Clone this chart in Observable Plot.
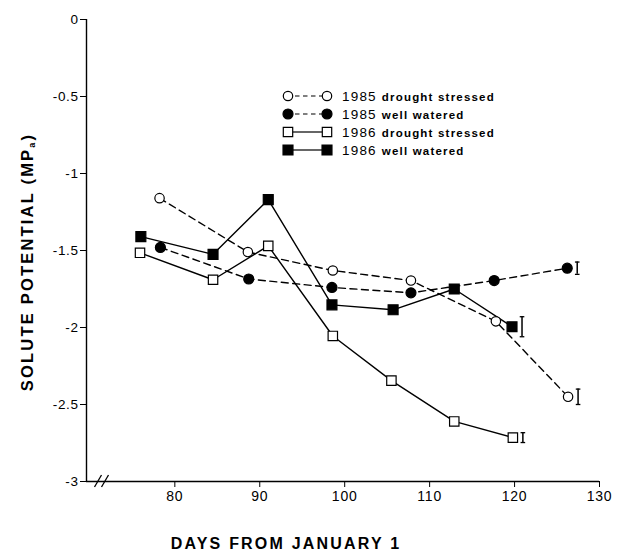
<!DOCTYPE html>
<html><head><meta charset="utf-8">
<script src="https://cdn.jsdelivr.net/npm/d3@7"></script>
<script src="https://cdn.jsdelivr.net/npm/@observablehq/plot@0.6"></script>
<style>
body{margin:0;background:#fff;}
#chart svg{display:block;}
g[aria-label="x-axis tick label"] text{letter-spacing:0.8px;}
g[aria-label="y-axis tick label"] text{letter-spacing:0.6px;}
</style></head><body><div id="chart"></div>
<script>
// ---- data ----
const days85DS = [78.2, 88.6, 98.6, 107.8, 117.8, 126.3];
const vals85DS = [-1.16, -1.51, -1.63, -1.695, -1.96, -2.45];
const days85WW = [78.3, 88.7, 98.5, 107.8, 117.6, 126.2];
const vals85WW = [-1.48, -1.685, -1.74, -1.775, -1.695, -1.615];
const days86DS = [75.9, 84.5, 91.0, 98.6, 105.5, 112.9, 119.8];
const vals86DS = [-1.515, -1.69, -1.47, -2.055, -2.345, -2.61, -2.715];
const days86WW = [76.0, 84.5, 91.0, 98.5, 105.7, 112.9, 119.7];
const vals86WW = [-1.41, -1.525, -1.17, -1.853, -1.885, -1.75, -1.995];

const seriesNames = ["1985 drought stressed", "1985 well watered", "1986 drought stressed", "1986 well watered"];
const seriesYears = ["1985", "1985", "1986", "1986"];
const seriesTreat = ["drought stressed", "well watered", "drought stressed", "well watered"];

const errDays  = [126.3, 126.2, 119.8, 119.7];
const errMeans = [-2.45, -1.615, -2.715, -1.995];
const errHalf  = [0.05, 0.04, 0.032, 0.065];

const xTicks = [80, 90, 100, 110, 120, 130];
const xTickLabels = ["80", "90", "100", "110", "120", "130"];
const yTicks = [0, -0.5, -1, -1.5, -2, -2.5, -3];
const yTickLabels = ["0", "-0.5", "-1", "-1.5", "-2", "-2.5", "-3"];
const xDomain = [69.6, 130];
const yDomain = [-3, 0];
const xTitle = "DAYS FROM JANUARY 1";
const yTitleMain = "SOLUTE POTENTIAL (MP";
const yTitleSub = "a";
const yTitleEnd = ")";

// ---- styles per series ----
const styles = [
  {symbol: "circle", fill: "white", r: 4.7, dash: "7,4.5"},
  {symbol: "circle", fill: "black", r: 5.0, dash: "7,4.5"},
  {symbol: "square", fill: "white", r: 5.3, dash: null},
  {symbol: "square", fill: "black", r: 5.6, dash: null}
];
const dayArrays = [days85DS, days85WW, days86DS, days86WW];
const valArrays = [vals85DS, vals85WW, vals86DS, vals86WW];
const series = seriesNames.map((name, i) => ({
  name, style: styles[i],
  rows: dayArrays[i].map((d, j) => ({day: d, value: valArrays[i][j]}))
}));
const errRows = errDays.map((d, i) => ({day: d, lo: errMeans[i] - errHalf[i], hi: errMeans[i] + errHalf[i]}));

const capSymbol = {draw(ctx) { ctx.moveTo(-2.3, 0); ctx.lineTo(2.3, 0); }};

const marks = [
  Plot.ruleX([xDomain[0]], {y1: yDomain[0], y2: yDomain[1], stroke: "black", strokeWidth: 1.4}),
  Plot.ruleY([yDomain[0]], {x1: xDomain[0], x2: xDomain[1], stroke: "black", strokeWidth: 1.4}),
  Plot.axisY({ticks: yTicks, tickSize: 6, tickPadding: 2, fontSize: 13.5, tickFormat: d => yTickLabels[yTicks.indexOf(d)], label: null}),
  Plot.axisX({ticks: xTicks, tickSize: 6, tickPadding: 4, fontSize: 14, tickFormat: d => xTickLabels[xTicks.indexOf(d)], label: null})
];
for (const s of series) {
  marks.push(Plot.line(s.rows, {x: "day", y: "value", stroke: "black", strokeWidth: 1.4, strokeDasharray: s.style.dash || undefined}));
}
for (const s of series) {
  marks.push(Plot.dot(s.rows, {x: "day", y: "value", symbol: s.style.symbol, r: s.style.r, fill: s.style.fill, stroke: "black", strokeWidth: 1.2}));
}
marks.push(Plot.ruleX(errRows, {x: "day", y1: "lo", y2: "hi", dx: 10, stroke: "black", strokeWidth: 1.5}));
marks.push(Plot.dot(errRows, {x: "day", y: "lo", dx: 10, symbol: capSymbol, stroke: "black", strokeWidth: 1.3, fill: "none"}));
marks.push(Plot.dot(errRows, {x: "day", y: "hi", dx: 10, symbol: capSymbol, stroke: "black", strokeWidth: 1.3, fill: "none"}));

const chart = Plot.plot({
  width: 617, height: 552,
  marginLeft: 86, marginRight: 18, marginTop: 19, marginBottom: 71,
  style: {fontFamily: "'Liberation Sans', Arial, sans-serif", color: "black", background: "white"},
  x: {domain: xDomain},
  y: {domain: yDomain},
  marks
});
document.getElementById("chart").appendChild(chart);

// ---- decorations: titles, axis break, legend ----
const svg = d3.select(chart);
const fontFam = "'Liberation Sans', Arial, sans-serif";

svg.append("text")
  .attr("x", 286).attr("y", 549)
  .attr("text-anchor", "middle")
  .attr("font-family", fontFam).attr("font-weight", "bold").attr("font-size", 16)
  .style("letter-spacing", "2.2px")
  .text(xTitle);

const yt = svg.append("text")
  .attr("transform", "translate(33,262) rotate(-90)")
  .attr("text-anchor", "middle")
  .attr("font-family", fontFam).attr("font-weight", "bold").attr("font-size", 16.5)
  .style("letter-spacing", "2.2px");
yt.append("tspan").text(yTitleMain);
yt.append("tspan").attr("font-size", 9).attr("dy", 2).text(yTitleSub);
yt.append("tspan").attr("dy", -2).text(yTitleEnd);

// axis break marks
const xs = chart.scale("x"), ys = chart.scale("y");
const bx = xs.apply(xDomain[0]), by = ys.apply(yDomain[0]);
for (const off of [12, 19]) {
  svg.append("line")
    .attr("x1", bx + off - 3.5).attr("y1", by + 6)
    .attr("x2", bx + off + 3.5).attr("y2", by - 6)
    .attr("stroke", "black").attr("stroke-width", 1.3);
}

// legend
const lg = svg.append("g").attr("transform", "translate(288,96)");
series.forEach((s, i) => {
  const g = lg.append("g").attr("transform", `translate(0,${i * 18})`);
  const st = s.style;
  g.append("line").attr("x1", 5).attr("x2", 34).attr("y1", 0).attr("y2", 0)
    .attr("stroke", "black").attr("stroke-width", 1.2)
    .attr("stroke-dasharray", st.dash ? "4.5,3.5" : null)
    .attr("stroke-dashoffset", st.dash ? -2 : null);
  const sym = d3.symbol(st.symbol === "circle" ? d3.symbolCircle : d3.symbolSquare, st.r * st.r * Math.PI);
  for (const cx of [0, 39]) {
    g.append("path").attr("d", sym()).attr("transform", `translate(${cx},0)`)
      .attr("fill", st.fill).attr("stroke", "black").attr("stroke-width", 1.2);
  }
  const t = g.append("text").attr("x", 54).attr("y", 5).attr("text-anchor", "start").attr("font-family", fontFam);
  t.append("tspan").attr("font-size", 13.5).style("letter-spacing", "1.2px").text(seriesYears[i] + " ");
  t.append("tspan").attr("font-size", 11.5).attr("font-weight", "bold").style("letter-spacing", "1.2px").text(seriesTreat[i]);
});
</script>
</body></html>
